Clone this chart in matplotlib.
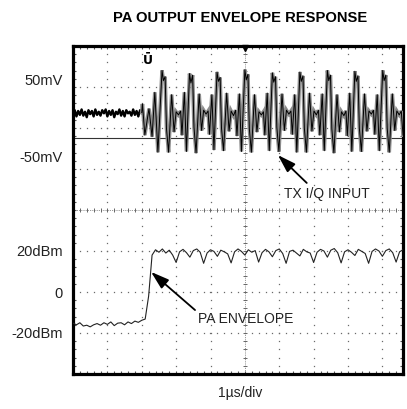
import numpy as np
import matplotlib
matplotlib.use("Agg")
import matplotlib.pyplot as plt
from matplotlib.ticker import MultipleLocator

FONT = ["Liberation Sans", "DejaVu Sans"]
plt.rcParams["font.family"] = FONT

# Scope screen: 1 us/div horizontally, 8 divisions vertically
TIME_SPAN_US = 9.6
V_HALF_DIV = 4

# TX I/Q input channel scaling (upper trace)
TX_ZERO_DIV = 2.244
MV_PER_DIV = 52.6
TX_REF_MV = -26
# PA envelope channel scaling (lower trace)
DBM_ZERO_DIV = -2.0
DBM_PER_DIV = 20.0

tx_labels_mv = [50, -50]
env_labels_dbm = [20, 0, -20]

# TX I/Q input before the burst (idle noise), sampled every 50 ns
tx_idle_mv = [6, 10, 2, 9, 4, 11, 3, 8, 1, 10, 5, 9, 2, 11, 4, 8, 3, 10, 6, 11,
              2, 9, 4, 10, 1, 8, 5, 11, 3, 9, 2, 10, 6, 8, 3, 11, 4, 9, 2, 10, 7]
tx_idle_t = np.linspace(0.0, 2.0, len(tx_idle_mv))

# TX I/Q input during the burst (turning points of the waveform)
tx_burst_t = [
    2.02, 2.09, 2.21, 2.30, 2.38, 2.47,
    2.59, 2.63, 2.68, 2.72, 2.78, 2.87, 2.94, 3.00, 3.07, 3.13, 3.17, 3.24, 3.30,
    3.39, 3.43, 3.48, 3.52, 3.58, 3.67, 3.74, 3.80, 3.87, 3.93, 3.97, 4.04, 4.10,
    4.19, 4.23, 4.28, 4.32, 4.38, 4.47, 4.54, 4.60, 4.67, 4.73, 4.77, 4.84, 4.90,
    5.00, 5.04, 5.09, 5.13, 5.19, 5.28, 5.35, 5.41, 5.48, 5.54, 5.58, 5.65, 5.71,
    5.80, 5.84, 5.89, 5.93, 5.99, 6.08, 6.15, 6.21, 6.28, 6.34, 6.38, 6.45, 6.51,
    6.60, 6.64, 6.69, 6.73, 6.79, 6.88, 6.95, 7.01, 7.08, 7.14, 7.18, 7.25, 7.31,
    7.40, 7.44, 7.49, 7.53, 7.59, 7.68, 7.75, 7.81, 7.88, 7.94, 7.98, 8.05, 8.11,
    8.20, 8.24, 8.29, 8.33, 8.39, 8.48, 8.55, 8.61, 8.68, 8.74, 8.78, 8.85, 8.91,
    9.01, 9.05, 9.10, 9.14, 9.20, 9.29, 9.36, 9.42, 9.49, 9.55, 9.60,
]
tx_burst_mv = [
    18, -22, 12, -24, 33, -44,
    61, 48, 53, -14, -44, 30, -18, 8, 4, 9, -22, 33, -43,
    57, 45, 55, -12, -45, 31, -16, 10, 5, 9, -21, 30, -41,
    59, 47, 52, -13, -42, 32, -17, 9, 3, 10, -23, 31, -43,
    62, 49, 56, -14, -44, 30, -18, 8, 4, 8, -22, 32, -42,
    58, 46, 53, -12, -43, 31, -16, 10, 5, 9, -21, 30, -44,
    59, 47, 54, -13, -44, 32, -17, 9, 4, 10, -22, 31, -42,
    61, 48, 55, -14, -45, 30, -18, 8, 3, 9, -23, 32, -43,
    60, 47, 54, -13, -43, 31, -17, 9, 5, 10, -21, 30, -42,
    61, 48, 55, -13, -44, 31, -16, 9, 4, 9, -22,
]

# PA output envelope, sampled every 100 ns
env_dbm = [
    -15.2, -16.0, -15.0, -16.6, -16.2, -17.0, -16.0, -15.4, -16.2, -15.0,
    -15.8, -14.6, -16.4, -15.2, -15.0, -16.0, -14.6, -15.4, -14.2, -14.8,
    -13.8, -13.2, -2.0, 18.0, 20.6, 19.4, 21.0, 19.0, 20.4, 18.0,
    14.4, 19.6, 20.8, 19.2, 17.0, 20.2, 21.0, 19.4, 14.0, 19.0,
    20.6, 19.8, 17.4, 20.4, 19.6, 18.6, 14.2, 19.6, 21.0, 19.8,
    18.0, 20.6, 19.4, 20.2, 14.6, 19.2, 20.8, 19.6, 17.2, 20.2,
    21.0, 18.8, 14.0, 19.8, 20.4, 19.0, 17.6, 20.8, 19.6, 19.0,
    14.4, 19.4, 20.8, 20.0, 17.0, 20.4, 21.2, 19.2, 14.2, 19.6,
    20.6, 19.4, 17.8, 20.8, 19.8, 18.8, 14.0, 19.8, 21.0, 20.0,
    17.4, 20.2, 21.0, 19.2, 14.6, 19.6, 20.6,
]
env_t = np.linspace(0.0, TIME_SPAN_US, len(env_dbm))


def mv_to_div(v):
    return TX_ZERO_DIV + np.asarray(v, dtype=float) / MV_PER_DIV


def dbm_to_div(v):
    return DBM_ZERO_DIV + np.asarray(v, dtype=float) / DBM_PER_DIV


fig = plt.figure(figsize=(4.07, 4.09), dpi=100)
ax = fig.add_axes([73 / 407, 1 - 374 / 409, 330 / 407, 328 / 409])
ax.set_xlim(0, TIME_SPAN_US)
ax.set_ylim(-V_HALF_DIV, V_HALF_DIV)

grid_col = "#6a6a6a"
# dotted graticule
for gx in range(1, 10):
    if gx == 5:
        continue
    ys = np.linspace(-V_HALF_DIV, V_HALF_DIV, 41)
    ax.plot(np.full_like(ys, gx), ys, ls="none", marker="s", ms=0.9,
            mec="none", mfc=grid_col, zorder=1)
for gy in range(-3, 4):
    if gy == 0:
        continue
    xs = np.linspace(0, TIME_SPAN_US, 49)
    ax.plot(xs, np.full_like(xs, gy), ls="none", marker="s", ms=0.9,
            mec="none", mfc=grid_col, zorder=1)

# centre cross with sub-division ticks
ax.axvline(5, color="#777777", lw=0.6, ls=(0, (1, 1.2)), zorder=1)
ax.axhline(0, color="#777777", lw=0.6, ls=(0, (1, 1.2)), zorder=1)
ys = np.linspace(-V_HALF_DIV, V_HALF_DIV, 41)
ax.plot(np.full_like(ys, 5), ys, ls="none", marker="_", ms=3.5, mew=0.7,
        color="#666666", zorder=1)
xs = np.linspace(0, TIME_SPAN_US, 49)
ax.plot(xs, np.zeros_like(xs), ls="none", marker="|", ms=3.5, mew=0.7,
        color="#666666", zorder=1)

# TX channel reference level
ax.axhline(mv_to_div(TX_REF_MV), color="#333333", lw=0.8, zorder=2)

# TX I/Q input trace
ax.plot(tx_idle_t, mv_to_div(tx_idle_mv), color="black", lw=1.7, zorder=3)
burst_t = np.concatenate([[tx_idle_t[-1]], tx_burst_t])
burst_v = mv_to_div(np.concatenate([[tx_idle_mv[-1]], tx_burst_mv]))
ax.plot(burst_t, burst_v, color="#8c8c8c", lw=2.6, zorder=3,
        solid_joinstyle="miter")
ax.plot(burst_t, burst_v, color="black", lw=0.7, zorder=4)

# PA envelope trace
ax.plot(env_t, dbm_to_div(env_dbm), color="#222222", lw=0.8, zorder=4)

# trigger markers
ax.plot([5.0], [V_HALF_DIV - 0.06], marker="v", ms=5, color="black",
        clip_on=False, zorder=6)
ax.text(2.18, 3.64, "Ū", fontsize=9, fontweight="bold", ha="center",
        va="center", family=["DejaVu Sans"], zorder=6)

# annotations
arrow_kw = dict(arrowstyle="-|>,head_length=1.1,head_width=0.35",
                color="black", lw=1.3, shrinkA=0, shrinkB=0,
                mutation_scale=10)
ax.annotate("", xy=(5.96, 1.34), xytext=(6.80, 0.66), arrowprops=arrow_kw,
            zorder=7)
ax.text(6.13, 0.38, "TX I/Q INPUT", fontsize=10, ha="left", va="center",
        color="#222222", zorder=7)
ax.annotate("", xy=(2.27, -1.51), xytext=(3.55, -2.44), arrowprops=arrow_kw,
            zorder=7)
ax.text(3.63, -2.67, "PA ENVELOPE", fontsize=10, ha="left", va="center",
        color="#222222", zorder=7)

# axis labels
ytick_pos = list(mv_to_div(tx_labels_mv)) + list(dbm_to_div(env_labels_dbm))
ytick_lab = [f"{v}mV" for v in tx_labels_mv] + \
            [f"{v}dBm" if v != 0 else "0" for v in env_labels_dbm]
ax.set_yticks(ytick_pos, ytick_lab)
ax.set_xticks([])
ax.xaxis.set_minor_locator(MultipleLocator(0.2))
ax.yaxis.set_minor_locator(MultipleLocator(0.2))
ax.tick_params(axis="y", which="major", length=0, pad=7.5, labelsize=10.5,
               labelcolor="#222222")
ax.tick_params(which="minor", direction="in", length=2.2, width=0.8,
               top=True, right=True, color="#555555")

for sp in ax.spines.values():
    sp.set_linewidth(2.3)
    sp.set_color("black")

fig.text(240 / 407, 1 - 18 / 409, "PA OUTPUT ENVELOPE RESPONSE",
         fontsize=10.6, fontweight="bold", ha="center", va="center")
fig.text(240 / 407, 1 - 393 / 409, "1µs/div", fontsize=10, ha="center",
         va="center", color="#222222")

fig.savefig("out.png", dpi=100)
